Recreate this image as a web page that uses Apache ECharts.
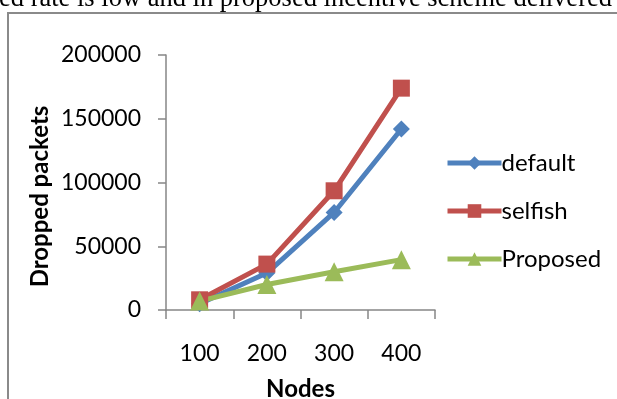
<!DOCTYPE html>
<html>
<head>
<meta charset="utf-8">
<script src="https://cdn.jsdelivr.net/npm/echarts@6/dist/echarts.min.js"></script>
<style>
  html, body { margin: 0; padding: 0; background: #fff; }
  #chart { width: 617px; height: 399px; }
</style>
</head>
<body>
<div id="chart"></div>
<script>
// Dropped packets per network size for each scheme
const nodes = ['100', '200', '300', '400'];
const defaultDrops = [5000, 29000, 76500, 142000];
const selfishDrops = [8000, 36000, 93500, 174000];
const proposedDrops = [7000, 20000, 30000, 39500];
const yTicks = { min: 0, max: 200000, interval: 50000 };

const axisGray = '#868686';
const labelFont = 'Lato, "Open Sans", sans-serif';

const chart = echarts.init(document.getElementById('chart'));

function lineSeries(name, data, color, symbol, size) {
  return {
    name, type: 'line', data, symbol, symbolSize: size,
    lineStyle: { color, width: 5 },
    itemStyle: { color },
    emphasis: { disabled: true },
    animation: false,
    z: 3
  };
}

function legendItem(name, color) {
  return { name, itemStyle: { color }, lineStyle: { color, width: 5 } };
}

chart.setOption({
  animation: false,
  grid: { left: 166, right: 182, top: 55, bottom: 89, outerBoundsMode: 'none', containLabel: false },
  graphic: [
    {
      type: 'text', left: -1, top: -14,
      style: {
        text: 'ed rate is low and in proposed incentive scheme delivered',
        font: '26.5px "Liberation Serif", "Times New Roman", serif',
        fill: '#000'
      }
    },
    {
      type: 'polyline',
      shape: { points: [[8, 400], [8, 13], [620, 13]] },
      style: { stroke: '#8a8a8a', lineWidth: 2, fill: null }
    }
  ],
  legend: {
    orient: 'vertical', left: 440, top: 146,
    itemWidth: 54, itemHeight: 17, itemGap: 24,
    textStyle: { fontFamily: labelFont, fontSize: 24, color: '#000', padding: [0, 0, 0, -5] },
    data: [
      legendItem('default', '#4F81BD'),
      legendItem('selfish', '#C0504D'),
      legendItem('Proposed', '#9BBB59')
    ]
  },
  xAxis: {
    type: 'category', data: nodes, boundaryGap: true,
    name: 'Nodes', nameLocation: 'middle', nameGap: 67,
    nameTextStyle: { fontFamily: labelFont, fontSize: 24, fontWeight: 'bold', color: '#000' },
    axisLine: { lineStyle: { color: axisGray, width: 1.5 } },
    axisTick: { show: true, length: 9, inside: false, lineStyle: { color: axisGray, width: 1.5 } },
    axisLabel: { fontFamily: labelFont, fontSize: 23, color: '#000', margin: 32 },
    splitLine: { show: false }
  },
  yAxis: {
    type: 'value', min: yTicks.min, max: yTicks.max, interval: yTicks.interval,
    name: 'Dropped packets', nameLocation: 'middle', nameGap: 114, nameRotate: 90,
    nameTextStyle: { fontFamily: labelFont, fontSize: 24, fontWeight: 'bold', color: '#000', padding: [0, 28, 0, 0] },
    axisLine: { show: true, lineStyle: { color: axisGray, width: 1.5 } },
    axisTick: { show: true, length: 8, lineStyle: { color: axisGray, width: 1.5 } },
    axisLabel: { fontFamily: labelFont, fontSize: 23, color: '#000', margin: 25, formatter: v => String(v) },
    splitLine: { show: false }
  },
  series: [
    lineSeries('default', defaultDrops, '#4F81BD', 'diamond', 17),
    lineSeries('selfish', selfishDrops, '#C0504D', 'rect', 17),
    lineSeries('Proposed', proposedDrops, '#9BBB59', 'triangle', 19)
  ]
});
</script>
</body>
</html>
